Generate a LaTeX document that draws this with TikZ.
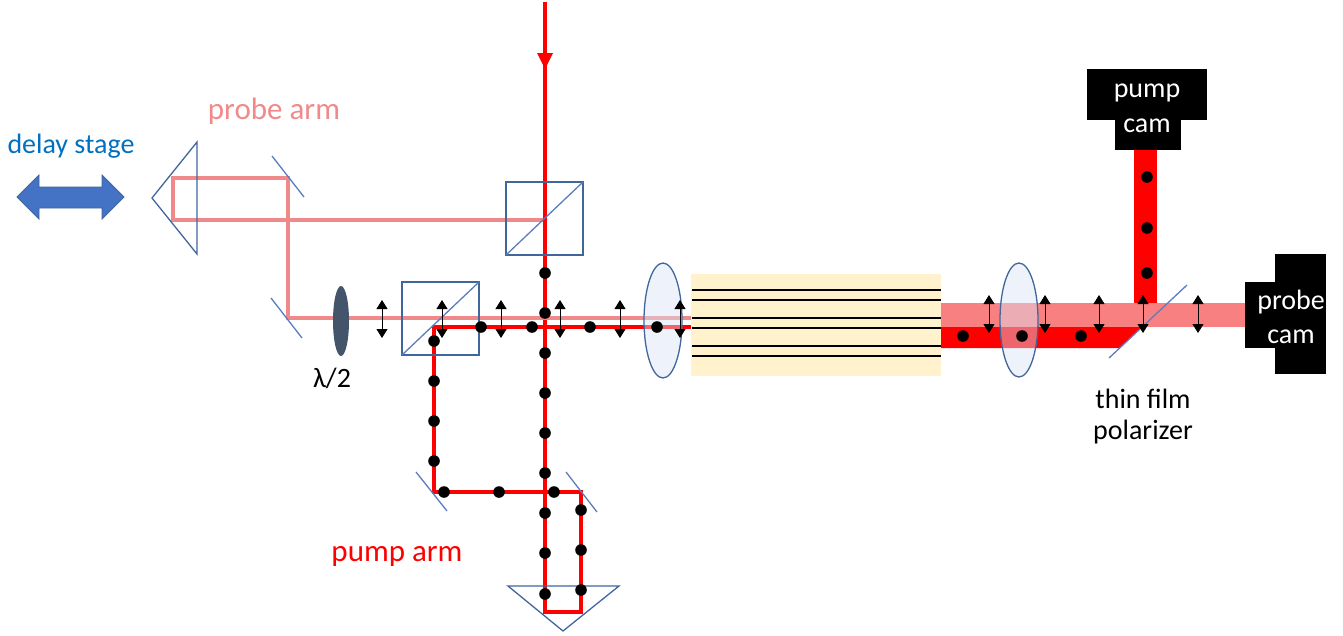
\documentclass[tikz,border=0pt]{standalone}
\usepackage{fontspec}
\usepackage{tikz}
\usepackage{xcolor}
\setmainfont{Carlito}
\usetikzlibrary{arrows.meta}
\definecolor{probered}{HTML}{F08A8A}
\definecolor{probewide}{HTML}{F98080}
\definecolor{pumpred}{HTML}{FF0000}
\definecolor{optblue}{HTML}{41669C}
\definecolor{mirrorblue}{HTML}{5B7DBE}
\definecolor{stageblue}{HTML}{4472C4}
\definecolor{labelblue}{HTML}{0070C0}
\definecolor{crystal}{HTML}{FFF2CC}
\definecolor{lensfill}{HTML}{DAE3F3}
\definecolor{plate}{HTML}{44546A}
\tikzset{
    probebeam/.style={draw=probered, line width=4pt},
    pumpbeam/.style={draw=pumpred, line width=4pt},
    optic/.style={draw=optblue, line width=1.3pt},
    mirror/.style={draw=mirrorblue, line width=1.3pt},
    lens/.style={draw=optblue, line width=1.3pt, fill=lensfill, fill opacity=0.45},
    label/.style={font=\fontsize{28}{28}\selectfont, inner sep=0pt},
    biglabel/.style={font=\fontsize{31}{31}\selectfont, inner sep=0pt},
    polarrow/.style={draw=black, line width=0.8pt, {Triangle[length=9pt,width=11pt]}-{Triangle[length=9pt,width=11pt]}}
}
\begin{document}
\begin{tikzpicture}[x=1pt, y=-1pt]
    \useasboundingbox (0,0) rectangle (1343,635);

    % Crystal
    \fill[crystal] (691,274) rectangle (941,376);
    \foreach \y in {290,300,318,328,346,356} {
        \draw[black, line width=1.6pt] (692,\y) -- (941,\y);
    }

    % Beam corners
    \coordinate (probeA) at (543,220);
    \coordinate (probeB) at (173,220);
    \coordinate (probeC) at (173,178);
    \coordinate (probeD) at (288,178);
    \coordinate (probeE) at (288,318);
    \coordinate (probeF) at (691,318);
    \coordinate (pumpTop) at (545,2);
    \coordinate (pumpA) at (545,612);
    \coordinate (pumpB) at (581,612);
    \coordinate (pumpC) at (581,492);
    \coordinate (pumpD) at (434,492);
    \coordinate (pumpE) at (434,327);
    \coordinate (pumpF) at (691,327);

    % Pump arm
    \draw[pumpbeam] (pumpTop) -- (pumpA) -- (pumpB) -- (pumpC) -- (pumpD) -- (pumpE) -- (pumpF);
    \fill[pumpred] (537,53) -- (553,53) -- (545,69) -- cycle;

    % Probe arm
    \draw[probebeam] (probeA) -- (probeB) -- (probeC) -- (probeD) -- (probeE) -- (probeF);

    % Wide beams after crystal
    \fill[pumpred] (1134,150) rectangle (1157,303);
    \fill[pumpred] (941,327) -- (1142,327) -- (1120,348) -- (941,348) -- cycle;
    \fill[probewide] (941,303) rectangle (1245,327);

    % Beam splitter cubes
    \draw[optic] (506,182) rectangle (583,255);
    \draw[mirror] (506,255) -- (583,182);
    \draw[optic] (402,282) rectangle (479,355);
    \draw[mirror] (402,355) -- (479,282);

    % Mirrors and prisms
    \draw[mirror] (272,156) -- (304,197);
    \draw[mirror] (271,298) -- (302,338);
    \draw[mirror] (416,472) -- (447,511);
    \draw[mirror] (566,472) -- (597,512);
    \draw[mirror] (1109,358) -- (1187,285);
    \draw[optic] (197,142) -- (152,198) -- (197,254) -- cycle;
    \draw[optic] (508,586) -- (619,586) -- (563,631) -- cycle;

    % Lenses and wave plate
    \filldraw[lens] (663,320.5) ellipse (19 and 57.5);
    \filldraw[lens] (1019,320) ellipse (19 and 57);
    \fill[plate] (341,321) ellipse (8 and 35);

    % Polarization in the plane
    \foreach \x in {382,442,501,560,620,680} {
        \draw[polarrow] (\x,300) -- (\x,338);
    }
    \foreach \x in {989,1045,1099,1143,1198} {
        \draw[polarrow] (\x,295) -- (\x,333);
    }

    % Polarization out of the plane
    \foreach \y in {273,313,353,393,433,473,513,553,594} {
        \fill[black] (545,\y) circle (5.8);
    }
    \foreach \y in {510,550,590} {
        \fill[black] (581,\y) circle (5.8);
    }
    \foreach \x in {444,499,554} {
        \fill[black] (\x,492) circle (5.8);
    }
    \foreach \y in {341,381,421,461} {
        \fill[black] (434,\y) circle (5.8);
    }
    \foreach \x in {481,532,590,657} {
        \fill[black] (\x,327) circle (5.8);
    }
    \foreach \x in {963,1022,1081} {
        \fill[black] (\x,336) circle (5.8);
    }
    \foreach \y in {177,228,273} {
        \fill[black] (1147,\y) circle (5.8);
    }

    % Cameras
    \fill[black] (1087,69) rectangle (1207,120);
    \fill[black] (1115,120) rectangle (1181,150);
    \fill[black] (1245,282) rectangle (1275,348);
    \fill[black] (1275,254) rectangle (1326,374);
    \node[label, white] (pumpcamA) at (1147,93) {pump};
    \node[label, white] (pumpcamB) at (1147,126) {cam};
    \node[label, white] (probecamA) at (1291,302) {probe};
    \node[label, white] (probecamB) at (1291,337) {cam};

    % Delay stage
    \filldraw[fill=stageblue, draw=optblue, line width=0.8pt]
        (17,197) -- (39,175) -- (39,187) -- (102,187) -- (102,175) -- (124,197)
        -- (102,219) -- (102,208) -- (39,208) -- (39,219) -- cycle;

    % Labels
    \node[label, text=labelblue] (delaylabel) at (71,146) {delay stage};
    \node[biglabel, text=probered] (probelabel) at (274,111) {probe arm};
    \node[biglabel, text=pumpred] (pumplabel) at (397,556) {pump arm};
    \node[label] (waveplate) at (332,378) {λ/2};
    \node[label] (filmA) at (1143,399) {thin film};
    \node[label] (filmB) at (1143,432) {polarizer};
\end{tikzpicture}
\end{document}
